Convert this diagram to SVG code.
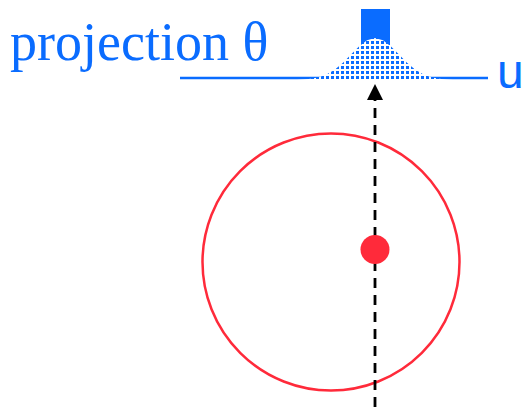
<svg xmlns="http://www.w3.org/2000/svg" width="525" height="407" viewBox="0 0 525 407">
  <style>
    .blue { fill: #0a6cff; }
    .axis { stroke: #0a6cff; stroke-width: 2.5; fill: none; }
    .label { fill: #0a6cff; }
    .red { stroke: #ff2a3a; fill: none; stroke-width: 2.5; }
    .conn { stroke: #000; stroke-width: 2.8; stroke-dasharray: 10 7; fill: none; }
  </style>
  <defs>
    <pattern id="dots" x="0" y="0" width="5" height="5" patternUnits="userSpaceOnUse">
      <rect width="5" height="5" fill="#ffffff"/>
      <rect x="1" y="1" width="3" height="3" fill="#0a6cff"/>
    </pattern>
  </defs>
  <rect width="525" height="407" fill="#ffffff"/>

  <g id="title">
    <text class="label" x="10" y="60" font-family="'Liberation Serif', 'Times New Roman', serif" font-size="54">projection θ</text>
  </g>

  <g id="axis">
    <line class="axis" x1="180" y1="78" x2="322" y2="78"/>
    <line class="axis" x1="423" y1="78" x2="488" y2="78"/>
    <text class="label" x="497" y="88" font-family="'Liberation Sans', Arial, sans-serif" font-size="48">u</text>
  </g>

  <g id="projection">
    <rect class="blue" x="361" y="9" width="29" height="36"/>
    <path fill="url(#dots)" d="M297 80 L303 79.5 L311 78.8 L319 77.2 L327 74.3 L335 69.5 L343 62.7 L351 54.5 L359 46.4 L367 40.3 L375 38 L383 40.3 L391 46.4 L399 54.5 L407 62.7 L415 69.5 L423 74.3 L431 77.2 L439 78.8 L447 79.5 L453 80 Z"/>
  </g>

  <g id="circle">
    <circle class="red" cx="331" cy="262" r="128.5"/>
  </g>

  <g id="connectors">
    <line class="conn" x1="375" y1="407" x2="375" y2="100"/>
    <polygon points="375,84 367,100 383,100" fill="#000"/>
  </g>

  <g id="point">
    <circle cx="375" cy="249.5" r="14.5" fill="#ff2a3a"/>
  </g>
</svg>
